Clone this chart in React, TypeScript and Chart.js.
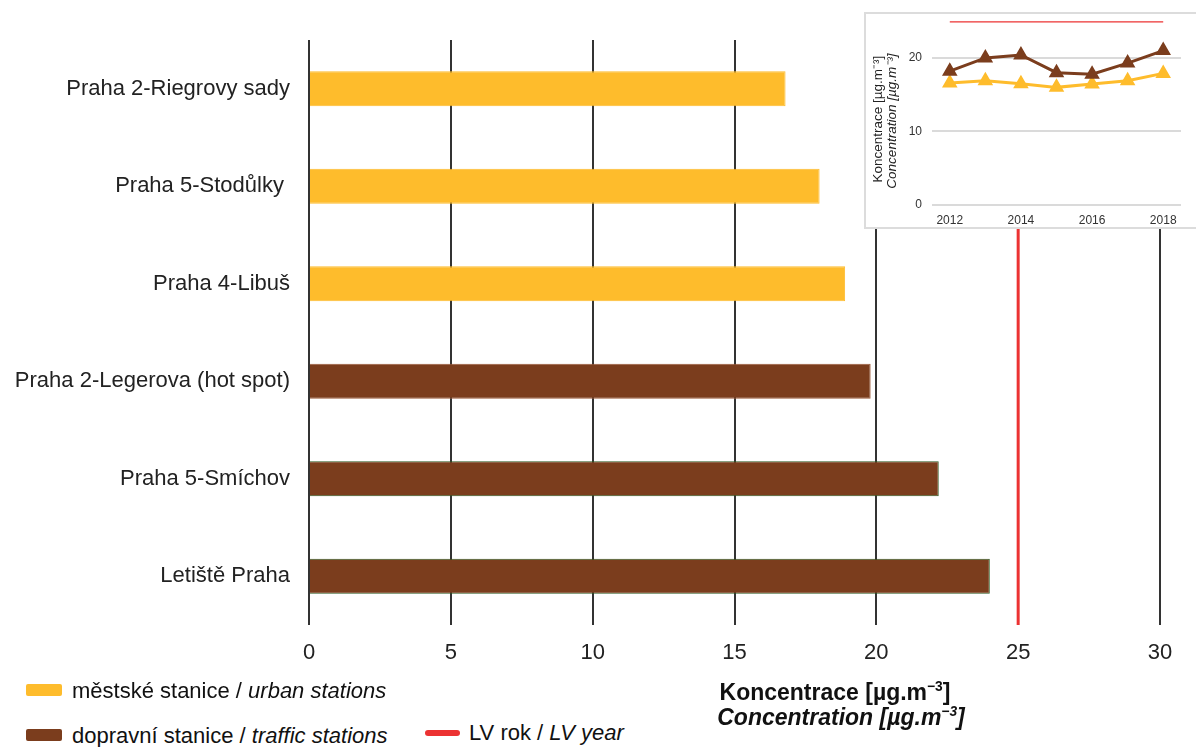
import React, { useEffect, useRef } from "react";
import { Chart, registerables } from "chart.js";

Chart.register(...registerables);

// ---- main chart data ----
const stations = [
  "Praha 2-Riegrovy sady",
  "Praha 5-Stodůlky ",
  "Praha 4-Libuš",
  "Praha 2-Legerova (hot spot)",
  "Praha 5-Smíchov",
  "Letiště Praha",
];
const stationValues = [16.8, 18.0, 18.9, 19.8, 22.2, 24.0];
const stationTypes = ["urban", "urban", "urban", "traffic", "traffic", "traffic"];
const limitValue = 25;
const xMin = 0;
const xMax = 30;
const xStep = 5;

// ---- inset chart data ----
const years = ["2012", "2013", "2014", "2015", "2016", "2017", "2018"];
const trafficTrend = [18.2, 20.0, 20.4, 18.0, 17.8, 19.3, 21.0];
const urbanTrend = [16.6, 16.9, 16.5, 16.0, 16.45, 16.9, 17.9];
const limitTrend = [25, 25, 25, 25, 25, 25, 25];

const YELLOW = "#FEBC2C";
const BROWN = "#7B3D1D";
const RED = "#EC3232";
const FONT = "'Liberation Sans', Arial, sans-serif";

const barColors = stationTypes.map((t) => (t === "urban" ? YELLOW : BROWN));
const barBorders = stationTypes.map((t, i) =>
  t === "urban" ? YELLOW : i === 3 ? "#9A5A3A" : "#2F5A22"
);

const limitLinePlugin = {
  id: "limitLine",
  afterDatasetsDraw(chart: any) {
    const { ctx, chartArea, scales } = chart;
    const x = scales.x.getPixelForValue(limitValue);
    ctx.save();
    ctx.strokeStyle = RED;
    ctx.lineWidth = 3;
    ctx.beginPath();
    ctx.moveTo(x, chartArea.top);
    ctx.lineTo(x, chartArea.bottom);
    ctx.stroke();
    ctx.restore();
  },
};

const insetTitlePlugin = {
  id: "insetTitle",
  afterDraw(chart: any) {
    const { ctx, chartArea } = chart;
    const cy = (chartArea.top + chartArea.bottom) / 2 + 6;
    ctx.save();
    ctx.fillStyle = "#222";
    ctx.textAlign = "center";
    ctx.textBaseline = "middle";
    ctx.translate(12, cy);
    ctx.rotate(-Math.PI / 2);
    ctx.font = `13.5px ${FONT}`;
    ctx.fillText("Koncentrace [µg.m⁻³]", 0, 0);
    ctx.font = `italic 13.5px ${FONT}`;
    ctx.fillText("Concentration [µg.m⁻³]", -2, 14);
    ctx.restore();
  },
};

function MainChart() {
  const ref = useRef<HTMLCanvasElement>(null);
  useEffect(() => {
    if (!ref.current) return;
    const chart = new Chart(ref.current, {
      type: "bar",
      data: {
        labels: stations,
        datasets: [
          {
            data: stationValues,
            backgroundColor: barColors,
            borderColor: barBorders,
            borderWidth: 1,
            barPercentage: 0.36,
            categoryPercentage: 1,
          },
        ],
      },
      options: {
        indexAxis: "y",
        animation: false,
        responsive: false,
        layout: { padding: { top: 40, right: 36, left: 0, bottom: 0 } },
        plugins: { legend: { display: false }, tooltip: { enabled: false } },
        scales: {
          y: {
            grid: { display: false, drawTicks: false },
            border: { display: false },
            ticks: { font: { size: 22, family: FONT }, color: "#222", padding: 19 },
            afterFit: (s: any) => {
              s.width = 309;
            },
          },
          x: {
            min: xMin,
            max: xMax,
            ticks: {
              stepSize: xStep,
              font: { size: 22, family: FONT },
              color: "#222",
              padding: 15,
            },
            grid: { color: "#333", lineWidth: 2, drawTicks: false },
            border: { display: false },
            afterFit: (s: any) => {
              s.height = 55;
            },
          },
        },
      },
      plugins: [limitLinePlugin],
    } as any);
    return () => chart.destroy();
  }, []);
  return <canvas ref={ref} width={1196} height={680} style={{ display: "block" }} />;
}

function InsetChart() {
  const ref = useRef<HTMLCanvasElement>(null);
  useEffect(() => {
    if (!ref.current) return;
    const chart = new Chart(ref.current, {
      type: "line",
      data: {
        labels: years,
        datasets: [
          {
            data: limitTrend,
            borderColor: RED,
            borderWidth: 2.5,
            pointRadius: 0,
            fill: false,
          },
          {
            data: trafficTrend,
            borderColor: BROWN,
            backgroundColor: BROWN,
            borderWidth: 3,
            pointStyle: "triangle",
            pointRadius: 6,
            fill: false,
          },
          {
            data: urbanTrend,
            borderColor: YELLOW,
            backgroundColor: YELLOW,
            borderWidth: 3,
            pointStyle: "triangle",
            pointRadius: 6,
            fill: false,
          },
        ],
      },
      options: {
        animation: false,
        responsive: false,
        layout: { autoPadding: false, padding: { top: 0, right: 15, left: 0, bottom: 0 } },
        plugins: { legend: { display: false }, tooltip: { enabled: false } },
        scales: {
          x: {
            type: "category",
            offset: true,
            grid: { display: false, drawTicks: false },
            border: { display: false },
            ticks: {
              autoSkip: false,
              maxRotation: 0,
              font: { size: 12, family: FONT },
              color: "#333",
              padding: 8,
              callback: (_v: any, i: number) => (i % 2 === 0 ? years[i] : ""),
            },
            afterFit: (s: any) => {
              s.height = 22;
            },
          },
          y: {
            min: 0,
            max: 25,
            ticks: {
              stepSize: 10,
              font: { size: 12, family: FONT },
              color: "#333",
              padding: 10,
            },
            afterBuildTicks: (s: any) => {
              s.ticks = s.ticks.filter((t: any) => t.value % 10 === 0);
            },
            grid: { color: "#dadada", lineWidth: 2, drawTicks: false },
            border: { display: false },
            afterFit: (s: any) => {
              s.width = 66;
            },
          },
        },
      },
      plugins: [insetTitlePlugin],
    } as any);
    return () => chart.destroy();
  }, []);
  return (
    <canvas
      ref={ref}
      width={330}
      height={223}
      style={{ display: "block", position: "absolute", left: 0, top: -10 }}
    />
  );
}

const legendText: React.CSSProperties = {
  position: "absolute",
  fontFamily: FONT,
  fontSize: 22,
  color: "#111",
  whiteSpace: "nowrap",
  lineHeight: "26px",
};

const titleLine: React.CSSProperties = {
  position: "absolute",
  width: 400,
  textAlign: "center",
  fontFamily: FONT,
  fontWeight: "bold",
  fontSize: 23,
  lineHeight: "26px",
  color: "#111",
  whiteSpace: "nowrap",
};

export default function App() {
  return (
    <div style={{ position: "relative", width: 1196, height: 747, background: "#fff", overflow: "hidden" }}>
      <style>{"body{margin:0;}"}</style>
      <div style={{ position: "absolute", left: 0, top: 0 }}>
        <MainChart />
      </div>
      <div
        style={{
          position: "absolute",
          left: 864,
          top: 12,
          width: 340,
          height: 217,
          boxSizing: "border-box",
          border: "2px solid #dcdcdc",
          background: "#fff",
          overflow: "hidden",
        }}
      >
        <InsetChart />
      </div>

      {/* legend */}
      <div style={{ position: "absolute", left: 26, top: 684, width: 36, height: 12, background: YELLOW, borderRadius: 2 }} />
      <div style={{ ...legendText, left: 72, top: 678 }}>
        městské stanice / <i>urban stations</i>
      </div>
      <div style={{ position: "absolute", left: 26, top: 729, width: 36, height: 12, background: BROWN, borderRadius: 2 }} />
      <div style={{ ...legendText, left: 72, top: 723 }}>
        dopravní stanice / <i>traffic stations</i>
      </div>
      <div style={{ position: "absolute", left: 425, top: 730, width: 35, height: 6, background: RED, borderRadius: 3 }} />
      <div style={{ ...legendText, left: 469, top: 720 }}>
        LV rok / <i>LV year</i>
      </div>

      {/* axis title */}
      <div style={{ ...titleLine, left: 835 - 200, top: 679 }}>
        Koncentrace [µg.m<sup style={{ fontSize: "0.6em", lineHeight: 0 }}>−3</sup>]
      </div>
      <div style={{ ...titleLine, left: 841 - 200, top: 704, fontStyle: "italic" }}>
        Concentration [µg.m<sup style={{ fontSize: "0.6em", lineHeight: 0 }}>−3</sup>]
      </div>
    </div>
  );
}
